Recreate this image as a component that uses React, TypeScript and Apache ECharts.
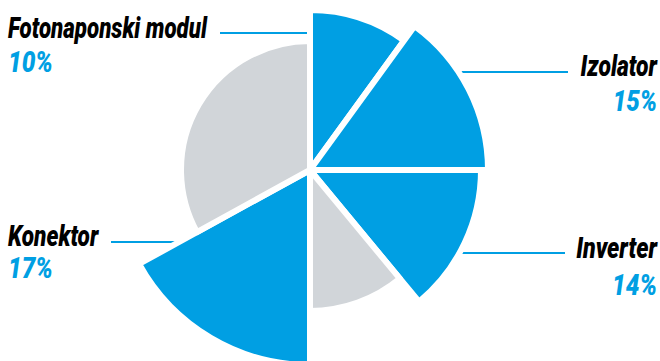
import React, { useEffect, useRef } from "react";
import * as echarts from "echarts";

const categories = ["Fotonaponski modul", "Izolator", "Inverter", "Ostalo 1", "Konektor", "Ostalo 2"];
const shares = [10, 15, 14, 11, 17, 33];
const highlighted = [true, true, true, false, true, false];

// visual radii (px) per slice
const sliceRadius = [160, 178, 171, 141, 195, 129];
const BLUE = "#009FE3";
const GRAY = "#D1D5D9";
const FONT = "Roboto, 'Open Sans', sans-serif";

export default function App() {
  const ref = useRef<HTMLDivElement>(null);
  useEffect(() => {
    const chart = echarts.init(ref.current!, null, { renderer: "svg" });
    const total = shares.reduce((a, b) => a + b, 0);
    let cum = 0;
    const series: any[] = shares.map((v, i) => {
      const start = (cum / total) * 360;
      cum += v;
      return {
        type: "pie",
        center: [310, 170],
        radius: [0, sliceRadius[i]],
        startAngle: 90 - start,
        clockwise: true,
        silent: true,
        label: { show: false },
        labelLine: { show: false },
        z: 2,
        data: [
          {
            name: categories[i],
            value: v,
            itemStyle: { color: highlighted[i] ? BLUE : GRAY, borderColor: "#fff", borderWidth: 6 },
          },
          { name: "rest", value: total - v, itemStyle: { color: "none", borderWidth: 0 } },
        ],
      };
    });

    const txt = (text: string, fill: string, x: number, y: number, align: "left" | "right", sx: number) => ({
      type: "text",
      x,
      y,
      scaleX: sx,
      style: { text, fill, font: `italic 900 29px ${FONT}`, textAlign: align, textVerticalAlign: "top" },
    });
    const line = (x1: number, x2: number, y: number) => ({
      type: "line",
      z: 1,
      shape: { x1, y1: y, x2, y2: y },
      style: { stroke: BLUE, lineWidth: 2 },
    });

    chart.setOption({
      animation: false,
      backgroundColor: "#fff",
      series,
      graphic: [
        txt(categories[0], "#000", 8, 13, "left", 0.77),
        txt(`${shares[0]}%`, BLUE, 8, 48, "left", 0.84),
        line(220, 312, 33),
        txt(categories[1], "#000", 657, 51, "right", 0.79),
        txt(`${shares[1]}%`, BLUE, 657, 87, "right", 0.83),
        line(440, 568, 72),
        txt(categories[2], "#000", 657, 234, "right", 0.8),
        txt(`${shares[2]}%`, BLUE, 657, 271, "right", 0.84),
        line(440, 565, 253),
        txt(categories[4], "#000", 8, 221, "left", 0.78),
        txt(`${shares[4]}%`, BLUE, 8, 254, "left", 0.84),
        line(111, 200, 242),
      ],
    });
    return () => chart.dispose();
  }, []);
  return <div ref={ref} style={{ position: "fixed", left: 0, top: 0, width: 660, height: 361 }} />;
}
